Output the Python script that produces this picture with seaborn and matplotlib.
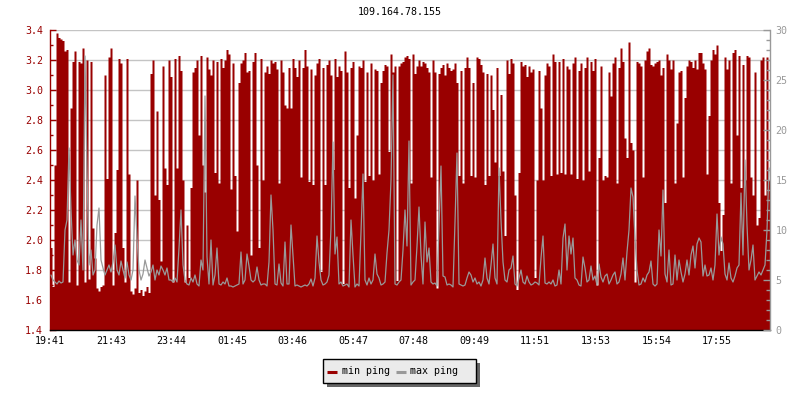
import numpy as np
import pandas as pd
import matplotlib
matplotlib.use("Agg")
import matplotlib.pyplot as plt
import seaborn as sns
from matplotlib.ticker import MultipleLocator, FormatStrFormatter
from matplotlib.patches import Rectangle
from matplotlib.lines import Line2D

# ---------------- data ----------------
title = "109.164.78.155"
step_minutes = 4
tick_labels = ["19:41", "21:43", "23:44", "01:45", "03:46", "05:47",
               "07:48", "09:49", "11:51", "13:53", "15:54", "17:55"]
tick_minutes = [0, 122, 243, 364, 485, 606, 727, 848, 970, 1092, 1213, 1334]
series_names = ["min ping", "max ping"]

min_ping_1 = [1.95, 1.69, 2.50, 3.38, 3.35, 3.34, 3.33, 3.26, 3.27, 1.72,
              2.88, 3.19, 3.26, 1.70, 3.19, 3.18, 3.28, 1.72, 3.20, 1.74,
              3.19, 2.08, 1.88, 1.68, 1.66, 1.69, 1.70, 3.10, 2.41, 3.22,
              3.28, 1.70, 2.05, 2.47, 3.21, 3.18, 1.95, 1.72, 3.21, 2.44,
              1.66, 1.64, 1.68, 2.40, 1.65, 1.67, 1.63, 1.66, 1.69, 1.65,
              3.11, 3.20, 2.30, 2.86, 2.27, 1.86, 3.16, 2.48, 2.37, 3.20]
min_ping_2 = [3.09, 1.72, 3.21, 2.48, 3.23, 3.13, 2.40, 1.72, 2.10, 1.75,
              2.35, 3.12, 3.15, 3.20, 2.70, 3.23, 2.50, 2.32, 3.22, 3.14,
              3.10, 3.20, 2.45, 3.19, 2.38, 3.21, 3.15, 3.20, 3.27, 3.24,
              2.34, 3.18, 2.43, 2.06, 3.05, 3.18, 3.20, 3.25, 3.12, 3.13,
              1.90, 3.19, 3.25, 2.50, 1.95, 3.21, 2.40, 3.12, 3.16, 3.11,
              3.20, 3.18, 3.19, 3.14, 2.38, 3.20, 3.12, 2.90, 2.88, 3.15]
min_ping_3 = [2.88, 3.21, 3.15, 3.09, 3.20, 2.42, 3.15, 3.27, 3.16, 2.39,
              3.14, 2.37, 3.10, 3.18, 3.21, 1.79, 3.15, 2.37, 3.17, 3.20,
              3.10, 2.47, 3.21, 3.09, 3.16, 3.13, 1.71, 3.26, 3.12, 2.35,
              3.15, 3.19, 2.28, 2.70, 3.16, 3.15, 3.20, 2.39, 3.12, 2.43,
              3.18, 2.40, 3.14, 3.13, 2.44, 3.05, 3.13, 3.17, 3.16, 2.59,
              3.24, 3.12, 3.16, 1.73, 3.16, 3.18, 3.19, 3.22, 3.23, 3.21]
min_ping_4 = [2.38, 3.24, 3.11, 3.16, 3.20, 3.16, 3.19, 3.18, 3.15, 3.12,
              2.42, 3.20, 3.12, 1.68, 3.11, 3.15, 3.17, 3.10, 3.18, 3.15,
              3.13, 3.14, 3.18, 3.05, 2.43, 3.13, 2.38, 3.15, 3.22, 3.15,
              2.43, 3.05, 2.42, 3.22, 3.21, 3.17, 3.12, 2.37, 3.11, 2.43,
              3.10, 2.87, 2.52, 3.15, 2.43, 2.97, 2.46, 2.03, 3.20, 3.11,
              3.21, 3.18, 2.30, 1.67, 2.45, 3.19, 3.16, 3.17, 3.09, 3.16]
min_ping_5 = [3.12, 3.14, 1.75, 2.40, 3.13, 2.88, 2.40, 3.10, 3.18, 3.16,
              2.43, 3.24, 3.19, 2.44, 3.19, 2.45, 3.21, 2.44, 3.16, 3.14,
              2.44, 3.18, 3.22, 2.41, 3.13, 3.18, 2.40, 3.15, 3.22, 2.46,
              3.19, 3.13, 3.21, 1.70, 2.55, 3.16, 2.40, 2.43, 2.42, 3.12,
              2.96, 3.18, 3.22, 2.38, 3.15, 3.28, 3.19, 2.68, 2.55, 3.32,
              2.65, 2.60, 1.72, 3.19, 3.18, 3.16, 2.42, 3.20, 3.26, 3.28]
min_ping_6 = [3.17, 3.16, 3.18, 3.19, 3.20, 3.10, 3.15, 2.25, 3.24, 3.20,
              3.14, 3.20, 2.38, 2.78, 3.12, 3.13, 2.42, 2.95, 3.16, 3.20,
              3.19, 3.15, 3.20, 3.14, 3.25, 3.25, 3.18, 3.14, 2.44, 2.83,
              3.20, 3.27, 3.24, 3.30, 2.25, 1.93, 2.17, 3.22, 3.14, 3.20,
              2.38, 3.25, 3.27, 2.70, 3.23, 2.35, 3.17, 2.40, 3.23, 3.22,
              2.42, 2.30, 3.12, 2.10, 2.15, 3.20, 3.22, 2.30, 3.22, 2.40]

max_ping_1 = [5.5, 5.0, 4.8, 4.6, 4.9, 4.7, 4.8, 10.0, 11.0, 18.2,
              12.0, 7.5, 9.0, 7.0, 6.5, 11.0, 6.0, 27.4, 16.0, 6.5,
              8.0, 5.5, 6.0, 10.5, 12.2, 7.0, 6.2, 5.5, 6.0, 6.5,
              5.8, 6.8, 8.5, 6.0, 5.5, 6.9, 6.0, 5.2, 6.8, 5.5,
              5.0, 6.0, 13.4, 9.2, 6.0, 5.0, 5.6, 7.0, 6.2, 5.4,
              5.8, 6.5, 5.0, 6.0, 5.5, 6.4, 6.0, 5.5, 6.2, 5.0]
max_ping_2 = [5.0, 4.8, 5.2, 4.8, 8.2, 12.0, 6.5, 5.0, 4.6, 4.5,
              5.2, 4.8, 5.5, 4.6, 4.4, 7.0, 6.0, 23.4, 7.3, 4.6,
              9.0, 4.5, 5.5, 8.2, 4.6, 4.5, 4.8, 4.6, 5.2, 4.4,
              4.4, 4.3, 4.4, 4.5, 4.6, 7.8, 4.6, 5.0, 7.6, 6.4,
              5.0, 4.8, 5.0, 6.3, 5.0, 4.5, 4.6, 4.6, 4.4, 6.8,
              13.5, 10.0, 4.6, 4.5, 6.6, 4.7, 4.4, 8.8, 4.6, 4.6]
max_ping_3 = [10.5, 7.4, 4.4, 4.5, 4.4, 4.3, 4.4, 4.5, 4.4, 4.6,
              5.1, 4.4, 5.2, 9.4, 6.8, 5.0, 4.5, 4.6, 4.8, 5.5,
              10.2, 18.8, 7.6, 9.3, 4.6, 4.8, 4.4, 4.5, 4.6, 4.3,
              11.0, 7.5, 4.3, 4.6, 4.4, 9.8, 15.6, 5.0, 4.5, 5.2,
              4.6, 5.0, 7.6, 5.6, 5.2, 4.5, 4.6, 4.8, 7.7, 10.0,
              15.0, 25.5, 4.6, 4.5, 4.8, 5.0, 8.0, 12.0, 8.4, 18.9]
max_ping_4 = [4.5, 4.8, 5.0, 8.4, 12.3, 7.5, 4.6, 10.8, 6.8, 8.2,
              4.8, 4.6, 4.7, 4.4, 10.3, 16.4, 5.4, 5.3, 4.5, 4.6,
              4.5, 4.3, 10.8, 17.7, 4.6, 4.5, 4.4, 4.5, 5.2, 5.8,
              5.5, 4.8, 5.2, 4.6, 4.8, 4.4, 5.0, 7.2, 5.2, 4.6,
              6.5, 8.6, 5.2, 4.6, 16.2, 11.0, 6.8, 5.0, 4.8, 6.0,
              6.2, 7.4, 4.6, 4.4, 5.2, 6.0, 4.8, 4.6, 5.4, 4.8]
max_ping_5 = [4.5, 4.6, 4.8, 4.7, 4.5, 7.2, 9.4, 4.7, 4.6, 4.8,
              4.6, 5.0, 4.4, 4.5, 6.0, 4.6, 9.2, 10.6, 6.0, 9.4,
              7.6, 9.2, 5.2, 5.0, 4.5, 4.4, 7.3, 6.2, 4.8, 5.0,
              6.4, 5.0, 5.4, 4.5, 6.6, 5.3, 4.8, 5.4, 5.6, 4.6,
              5.0, 5.5, 5.8, 4.6, 4.8, 5.6, 7.2, 5.0, 7.8, 10.0,
              14.2, 13.3, 9.2, 6.0, 4.5, 4.6, 5.2, 4.8, 5.5, 5.8]
max_ping_6 = [6.9, 4.6, 4.4, 4.6, 10.0, 7.4, 14.0, 5.6, 4.8, 8.0,
              4.5, 4.6, 7.5, 5.0, 7.0, 5.8, 4.8, 5.6, 7.0, 5.5,
              7.5, 8.4, 6.2, 8.6, 9.2, 8.8, 5.4, 6.5, 5.4, 5.5,
              6.2, 5.0, 6.5, 11.6, 7.5, 9.3, 8.6, 5.6, 5.0, 6.7,
              5.2, 4.8, 5.4, 6.2, 6.5, 13.7, 7.5, 17.0, 10.5, 6.0,
              7.0, 8.5, 5.0, 5.4, 5.8, 5.5, 6.0, 6.5, 10.0, 16.2]

min_ping = np.array(min_ping_1 + min_ping_2 + min_ping_3 + min_ping_4 + min_ping_5 + min_ping_6)
max_ping = np.array(max_ping_1 + max_ping_2 + max_ping_3 + max_ping_4 + max_ping_5 + max_ping_6)

# ---------------- styling ----------------
RED = "#990000"
GREY = "#999999"
FS = 7.2

sns.set_style("white")
plt.rcParams["font.family"] = ["DejaVu Sans Mono", "DejaVu Sans"]

n = len(min_ping)
edges = np.arange(n + 1) * step_minutes
mn = np.append(min_ping, min_ping[-1])
df_min = pd.DataFrame({"minute": edges, "min": mn})
df_max = pd.DataFrame({"minute": np.arange(n) * step_minutes + step_minutes / 2,
                       "max": max_ping})

W, H = 800, 400
fig = plt.figure(figsize=(8, 4), dpi=100)
ax = fig.add_axes([50 / W, 1 - 330 / H, 720 / W, 300 / H])
ax.set_facecolor("white")

ax.fill_between(df_min["minute"], 1.4, df_min["min"], step="post", color=RED,
                linewidth=0, zorder=2)
ax.set_ylim(1.4, 3.4)
ax.set_xlim(0, n * step_minutes)
ax.yaxis.set_major_locator(MultipleLocator(0.2))
ax.yaxis.set_minor_locator(MultipleLocator(0.1))
ax.yaxis.set_major_formatter(FormatStrFormatter("%.1f"))
ax.yaxis.grid(True, which="major", color="#c4c4c4", linewidth=1.0, zorder=0)
ax.set_axisbelow(True)
ax.set_xticks(tick_minutes)
ax.set_xticklabels(tick_labels)
ax.tick_params(axis="y", which="major", direction="in", length=4, width=1,
               color=RED, labelcolor=RED, labelsize=FS, pad=5)
ax.tick_params(axis="y", which="minor", direction="in", length=2.5, width=1,
               color=RED)
ax.tick_params(axis="x", which="major", direction="in", length=4, width=1,
               color="black", labelcolor="black", labelsize=FS, pad=4.5)
for s in ["top", "right"]:
    ax.spines[s].set_visible(False)
ax.spines["left"].set_color(RED)
ax.spines["left"].set_linewidth(1)
ax.spines["bottom"].set_color("black")
ax.spines["bottom"].set_linewidth(1)

ax2 = ax.twinx()
sns.lineplot(data=df_max, x="minute", y="max", ax=ax2, color=GREY, linewidth=0.9,
             estimator=None, legend=False)
ax2.set_ylim(0, 30)
ax2.set_xlim(0, n * step_minutes)
ax2.set_xlabel("")
ax2.set_ylabel("")
ax.set_xlabel("")
ax.set_ylabel("")
ax2.yaxis.set_major_locator(MultipleLocator(5))
ax2.yaxis.set_minor_locator(MultipleLocator(1))
ax2.tick_params(axis="y", which="major", direction="in", length=5, width=1,
                color=GREY, labelcolor=GREY, labelsize=FS, pad=4)
ax2.tick_params(axis="y", which="minor", direction="in", length=3, width=1,
                color=GREY)
for s in ["top", "left", "bottom"]:
    ax2.spines[s].set_visible(False)
ax2.spines["right"].set_color(GREY)
ax2.spines["right"].set_linewidth(1)

# title
fig.text(0.5, 1 - 12 / H, title, ha="center", va="center", fontsize=FS,
         color="black")

# legend (box with drop shadow)
def fx(px):
    return px / W

def fy(py):
    return 1 - py / H

bx0, bx1, by0, by1 = 322.7, 475.7, 359.3, 383.3
fig.patches.append(Rectangle((fx(bx0 + 4), fy(by1 + 4)), fx(bx1 - bx0), (by1 - by0) / H,
                             transform=fig.transFigure, facecolor="#666666",
                             edgecolor="none", zorder=5))
fig.patches.append(Rectangle((fx(bx0), fy(by1)), fx(bx1 - bx0), (by1 - by0) / H,
                             transform=fig.transFigure, facecolor="#ebebeb",
                             edgecolor="black", linewidth=1.0, zorder=6))
for (hx0, hx1, tx), name, col in zip([(327.3, 337.3, 341.7), (395.7, 405.7, 410.0)],
                                     series_names, [RED, GREY]):
    fig.lines.append(Line2D([fx(hx0), fx(hx1)], [fy(371.5), fy(371.5)],
                            transform=fig.transFigure, color=col, linewidth=2.2,
                            solid_capstyle="butt", zorder=7))
    fig.text(fx(tx), fy(373.5), name, ha="left", va="baseline", fontsize=FS,
             color="black", zorder=7)

fig.savefig("out.png", dpi=100, facecolor="white")
